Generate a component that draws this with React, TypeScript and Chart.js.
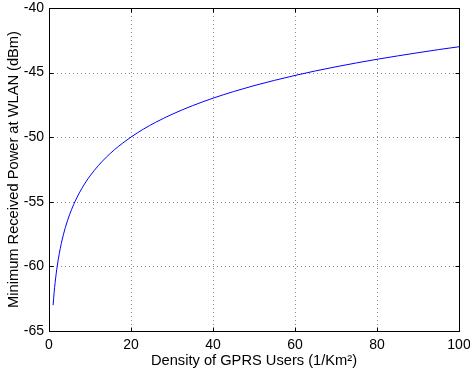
import React, { useEffect, useRef } from "react";
import { Chart, registerables } from "chart.js";

Chart.register(...registerables);

const densities = [1, 1.25, 1.5, 1.75, 2, 2.5, 3, 3.5, 4, 5, 6, 7, 8, 9, 10, 12, 14, 16, 18, 20, 23, 26, 30, 35, 40, 45, 50, 55, 60, 65, 70, 75, 80, 85, 90, 95, 100];
const minPower = [-63.0, -62.03, -61.24, -60.57, -59.99, -59.02, -58.23, -57.56, -56.98, -56.01, -55.22, -54.55, -53.97, -53.46, -53.0, -52.21, -51.54, -50.96, -50.45, -49.99, -49.38, -48.85, -48.23, -47.56, -46.98, -46.47, -46.01, -45.6, -45.22, -44.87, -44.55, -44.25, -43.97, -43.71, -43.46, -43.22, -43.0];
const xTicks = [0, 20, 40, 60, 80, 100];
const yTicks = [-65, -60, -55, -50, -45, -40];
const xTitle = "Density of GPRS Users (1/Km\u00B2)";
const yTitle = "Minimum Received Power at WLAN (dBm)";

const FONT = "'Liberation Sans', Arial, Helvetica, sans-serif";

const framePlugin = {
  id: "matlabFrame",
  beforeDatasetsDraw(chart: any) {
    const { ctx, chartArea: a, scales } = chart;
    ctx.save();
    ctx.strokeStyle = "rgba(0,0,0,0.45)";
    ctx.lineWidth = 1;
    ctx.setLineDash([1, 3]);
    xTicks.forEach((v) => {
      const px = Math.round(scales.x.getPixelForValue(v)) + 0.5;
      if (v === xTicks[0] || v === xTicks[xTicks.length - 1]) return;
      ctx.beginPath();
      ctx.moveTo(px, a.top);
      ctx.lineTo(px, a.bottom);
      ctx.stroke();
    });
    yTicks.forEach((v) => {
      const py = Math.round(scales.y.getPixelForValue(v)) + 0.5;
      if (v === yTicks[0] || v === yTicks[yTicks.length - 1]) return;
      ctx.beginPath();
      ctx.moveTo(a.left, py);
      ctx.lineTo(a.right, py);
      ctx.stroke();
    });
    ctx.restore();
  },
  afterDraw(chart: any) {
    const { ctx, chartArea: a, scales } = chart;
    ctx.save();
    ctx.strokeStyle = "#000";
    ctx.lineWidth = 1;
    ctx.setLineDash([]);
    const L = Math.round(a.left) + 0.5;
    const R = Math.round(a.right) + 0.5;
    const T = Math.round(a.top) + 0.5;
    const B = Math.round(a.bottom) + 0.5;
    ctx.strokeRect(L, T, R - L, B - T);
    const tl = 4;
    ctx.beginPath();
    xTicks.forEach((v) => {
      const px = Math.round(scales.x.getPixelForValue(v)) + 0.5;
      ctx.moveTo(px, B);
      ctx.lineTo(px, B - tl);
      ctx.moveTo(px, T);
      ctx.lineTo(px, T + tl);
    });
    yTicks.forEach((v) => {
      const py = Math.round(scales.y.getPixelForValue(v)) + 0.5;
      ctx.moveTo(L, py);
      ctx.lineTo(L + tl, py);
      ctx.moveTo(R, py);
      ctx.lineTo(R - tl, py);
    });
    ctx.stroke();
    ctx.restore();
  },
};

export default function App() {
  const ref = useRef<HTMLCanvasElement | null>(null);
  useEffect(() => {
    if (!ref.current) return;
    Chart.defaults.color = "#000";
    const chart = new Chart(ref.current, {
      type: "line",
      data: {
        datasets: [
          {
            data: densities.map((d, i) => ({ x: d, y: minPower[i] })),
            borderColor: "#0000ff",
            borderWidth: 1,
            pointRadius: 0,
            fill: false,
            cubicInterpolationMode: "monotone",
          },
        ],
      },
      options: {
        responsive: false,
        animation: false,
        layout: { padding: { top: 8, right: 11, left: 0, bottom: 0 } },
        plugins: { legend: { display: false }, tooltip: { enabled: false } },
        scales: {
          x: {
            type: "linear",
            min: 0,
            max: 100,
            afterBuildTicks: (s: any) => {
              s.ticks = xTicks.map((v) => ({ value: v }));
            },
            afterFit: (s: any) => {
              s.height = 42;
              s.paddingLeft = 0;
              s.paddingRight = 0;
            },
            grid: { display: false, drawTicks: false },
            border: { display: false },
            ticks: { padding: 6, font: { family: FONT, size: 14 }, color: "#000", maxRotation: 0 },
            title: {
              display: true,
              text: xTitle,
              font: { family: FONT, size: 14.67 },
              color: "#000",
              padding: { top: 0, bottom: 3 },
            },
          },
          y: {
            type: "linear",
            min: -65,
            max: -40,
            afterBuildTicks: (s: any) => {
              s.ticks = yTicks.map((v) => ({ value: v }));
            },
            afterFit: (s: any) => {
              s.width = 49;
              s.paddingTop = 0;
              s.paddingBottom = 0;
            },
            grid: { display: false, drawTicks: false },
            border: { display: false },
            ticks: { padding: 5, font: { family: FONT, size: 14 }, color: "#000" },
            title: {
              display: true,
              text: yTitle,
              font: { family: FONT, size: 14.67 },
              color: "#000",
              padding: { top: 5, bottom: 0 },
            },
          },
        },
      },
      plugins: [framePlugin],
    } as any);
    return () => chart.destroy();
  }, []);
  return (
    <div style={{ position: "absolute", left: 0, top: 0, width: 470, height: 373, background: "#fff" }}>
      <canvas ref={ref} width={470} height={373} style={{ display: "block", width: 470, height: 373 }} />
    </div>
  );
}
